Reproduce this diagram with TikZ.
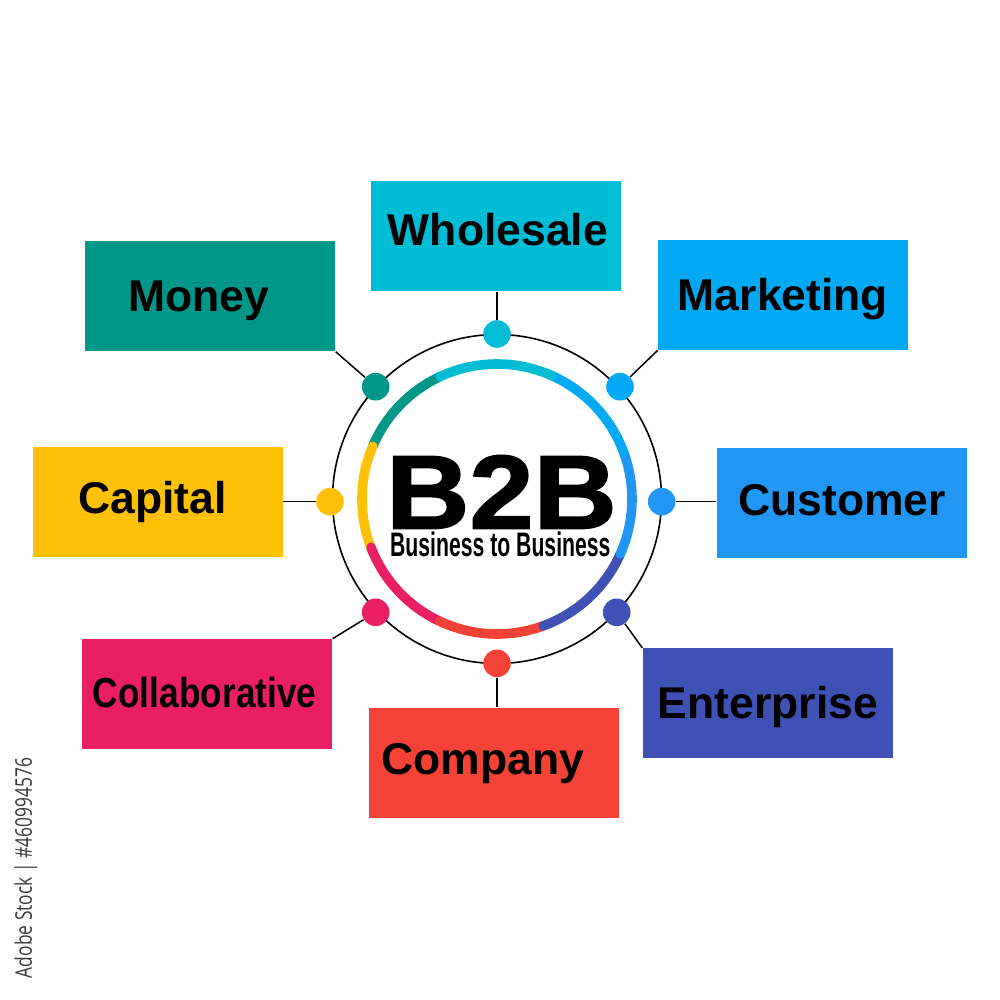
\documentclass[tikz,border=0pt]{standalone}
\usepackage{fontspec}
\usepackage{graphicx}
\setmainfont{Liberation Sans}
\newfontfamily\heavyfont[FakeBold=1.6]{Liberation Sans Bold}
\newfontfamily\wmfont{Open Sans}
\definecolor{cteal}{HTML}{009688}
\definecolor{ccyan}{HTML}{00BCD4}
\definecolor{clblue}{HTML}{03A9F4}
\definecolor{cblue}{HTML}{2196F3}
\definecolor{cindigo}{HTML}{3F51B5}
\definecolor{cred}{HTML}{F44336}
\definecolor{cpink}{HTML}{E91E63}
\definecolor{camber}{HTML}{FFC107}
\definecolor{wmgray}{HTML}{3A3A3A}
\begin{document}
\begin{tikzpicture}[x=0.5pt,y=-0.5pt,
  box/.style={rectangle, minimum width=125pt, minimum height=55pt, inner sep=0pt, fill=#1},
  lbl/.style={inner sep=0pt, text height=15.9pt, text depth=0pt, font=\fontsize{22.25}{26}\selectfont\bfseries},
  conn/.style={line width=0.75pt, draw=black},
  dot/.style={circle, inner sep=0pt, minimum size=13.8pt, fill=#1},
  ring/.style={line width=4.8pt, line cap=round}
]
\fill[white] (0,0) rectangle (1000,1000);
\useasboundingbox (0,0) rectangle (1000,1000);

% boxes
\node[box=ccyan]   (wh) at (496.3,236.3) {};
\node[box=cteal]   (mo) at (210.3,296.3) {};
\node[box=clblue]  (ma) at (783,295) {};
\node[box=camber]  (ca) at (157.9,501.9) {};
\node[box=cblue]   (cu) at (841.7,502.7) {};
\node[box=cpink]   (cl) at (207.3,694) {};
\node[box=cred]    (co) at (494,762.8) {};
\node[box=cindigo] (en) at (767.7,703.3) {};

% circle centre and outer circle
\coordinate (c) at (497,499);
\draw[line width=0.8pt] (c) circle[radius=82.25pt];

% inner coloured ring
\draw[ring, cteal]   (c) ++(157:67.5pt) arc[start angle=157, end angle=115, radius=67.5pt];
\draw[ring, camber]  (c) ++(201:67.5pt) arc[start angle=201, end angle=157, radius=67.5pt];
\draw[ring, cpink]   (c) ++(245:67.5pt) arc[start angle=245, end angle=201, radius=67.5pt];
\draw[ring, cred]    (c) ++(290:67.5pt) arc[start angle=290, end angle=245, radius=67.5pt];
\draw[ring, cindigo] (c) ++(336:67.5pt) arc[start angle=336, end angle=290, radius=67.5pt];
\draw[ring, cblue]   (c) ++(20:67.5pt) arc[start angle=20, end angle=-24, radius=67.5pt];
\draw[ring, clblue]  (c) ++(66:67.5pt) arc[start angle=66, end angle=20, radius=67.5pt];
\draw[ring, ccyan]   (c) ++(115:67.5pt) arc[start angle=115, end angle=66, radius=67.5pt];

% dots
\node[dot=ccyan]   (dwh) at (497,334) {};
\node[dot=clblue]  (dma) at (620,386.7) {};
\node[dot=cblue]   (dcu) at (661.7,501.7) {};
\node[dot=cindigo] (den) at (616.7,612.3) {};
\node[dot=cred]    (dco) at (497,663.3) {};
\node[dot=cpink]   (dcl) at (375.7,612.3) {};
\node[dot=camber]  (dca) at (330,501.7) {};
\node[dot=cteal]   (dmo) at (375.7,386.7) {};

% connectors
\draw[conn] (dwh) -- (dwh |- wh.south);
\draw[conn] (dma) -- (ma.south west);
\draw[conn] (dcu) -- (dcu -| cu.west);
\draw[conn] (den) -- (en.north west);
\draw[conn] (dco) -- (dco |- co.north);
\draw[conn] (dcl) -- (cl.north east);
\draw[conn] (dca) -- (dca -| ca.east);
\draw[conn] (dmo) -- (mo.south east);

% labels
\node[lbl] (twh) at (498,229.7) {Wholesale};
\node[lbl] (tmo) at (199,296) {Money};
\node[lbl] (tma) at (783,295) {Marketing};
\node[lbl] (tca) at (152.5,498) {Capital};
\node[lbl] (tcu) at (842,500) {Customer};
\node[lbl, text height=15pt, font=\fontsize{21}{25}\selectfont\bfseries] (tcl) at (204.7,692) {\scalebox{0.84}[1]{Collaborative}};
\node[lbl] (tco) at (483,759) {Company};
\node[lbl] (ten) at (768,702.5) {Enterprise};

% centre text
\node[inner sep=0pt, text height=37.5pt, text depth=0pt, font=\heavyfont\fontsize{52.4}{60}\selectfont] (b2b) at (501.5,491) {\scalebox{1.1}[1]{B2B}};
\node[inner sep=0pt, text height=12.2pt, text depth=0pt, font=\fontsize{17}{20}\selectfont\bfseries] (btb) at (500.3,544.5) {\scalebox{0.624}[1]{Business to Business}};

% vertical credit text
\node[inner sep=0pt, rotate=90, text height=7.85pt, text depth=0pt, text=wmgray, font=\wmfont\fontsize{11.5}{13}\selectfont] (wm) at (24,868) {\resizebox{110pt}{\height}{Adobe Stock | \#460994576}};
\end{tikzpicture}
\end{document}
